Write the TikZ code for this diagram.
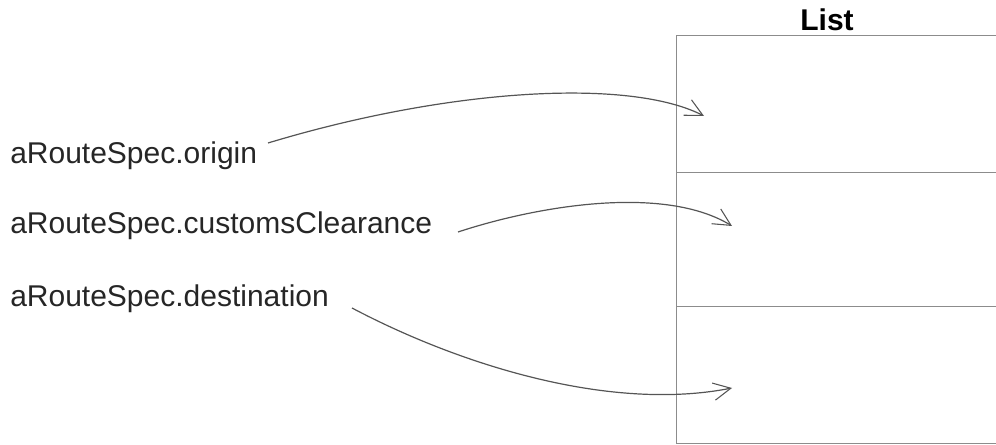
\documentclass[tikz,border=0pt]{standalone}
\usepackage{fontspec}
\setmainfont{Liberation Sans}
\usetikzlibrary{arrows.meta}
\definecolor{boxgray}{HTML}{8C8C8C}
\definecolor{arrgray}{HTML}{555555}
\begin{document}
\begin{tikzpicture}[x=0.75pt,y=-0.75pt,
  lbl/.style={anchor=base west,inner sep=0pt,font=\fontsize{22.5pt}{26pt}\selectfont,text=black!85},
  slot/.style={draw=boxgray,line width=1.1pt,anchor=north west,minimum width=250pt,inner sep=0pt},
  ptr/.style={draw=arrgray,line width=0.9pt,-{Straight Barb[length=13pt,width=13pt,line width=0.8pt]}}]
\useasboundingbox (0,0) rectangle (996,445);
% list slots
\node[slot,minimum height=102.75pt] (s1) at (676,35) {};
\node[slot,minimum height=100.5pt] (s2) at (676,172) {};
\node[slot,minimum height=102.75pt] (s3) at (676,306) {};
\node[anchor=base,inner sep=0pt,font=\fontsize{22.5pt}{26pt}\selectfont\bfseries] (title) at (827,31) {List};
% labels
\node[lbl] (orig) at (10,164) {aRouteSpec.origin};
\node[lbl] (cust) at (10,234) {aRouteSpec.customsClearance};
\node[lbl] (dest) at (10,306) {aRouteSpec.destination};
% arrow targets
\coordinate (t1) at (704,116);
\coordinate (t2) at (732,226);
\coordinate (t3) at (732,388);
\coordinate (o1) at (268,143);
\coordinate (o2) at (458,232);
\coordinate (o3) at (352,308);
% pointers
\draw[ptr] (o1) .. controls (450,88) and (630,78) .. (t1);
\draw[ptr] (o2) .. controls (540,205) and (665,185) .. (t2);
\draw[ptr] (o3) .. controls (460,365) and (610,412) .. (t3);
\end{tikzpicture}
\end{document}
